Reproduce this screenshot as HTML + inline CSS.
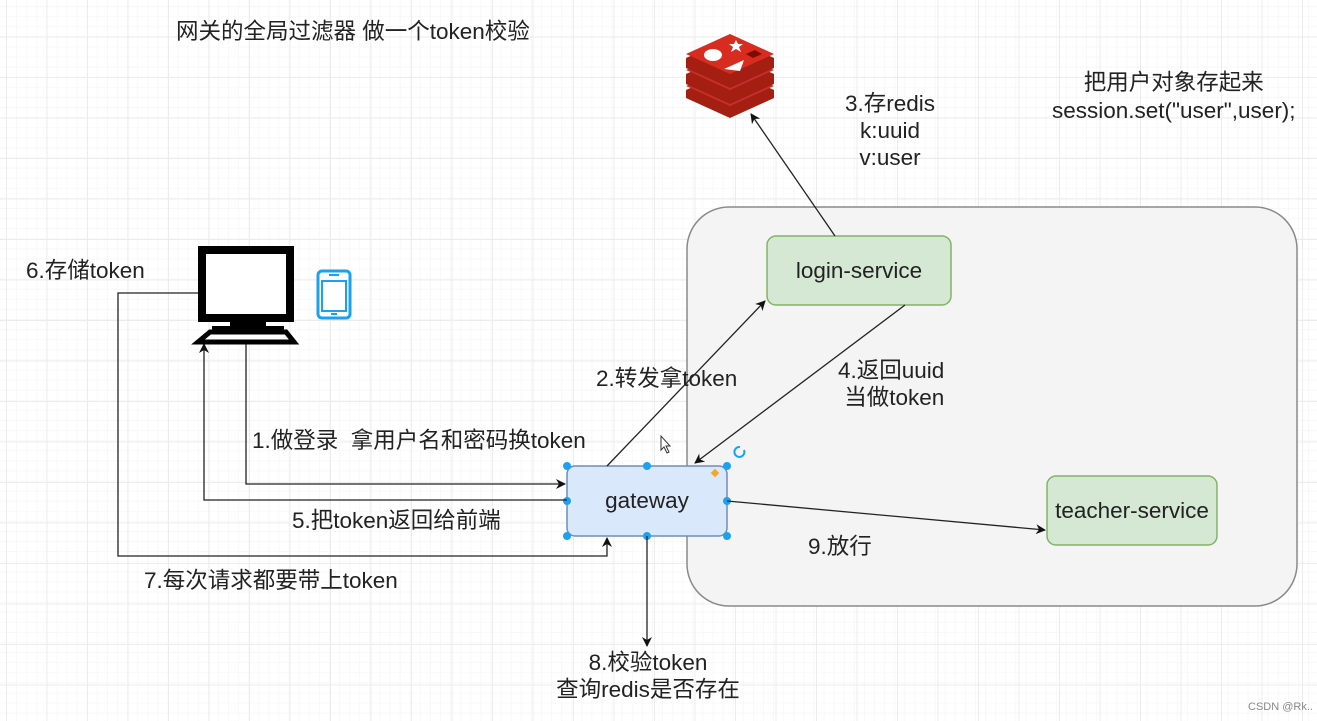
<!DOCTYPE html>
<html><head><meta charset="utf-8"><style>
html,body{margin:0;padding:0}
body{width:1317px;height:719px;overflow:hidden;position:relative;background:#fff;
background-image:linear-gradient(#ececec 1px,transparent 1px),linear-gradient(90deg,#ececec 1px,transparent 1px),linear-gradient(#f8f8f8 1px,transparent 1px),linear-gradient(90deg,#f8f8f8 1px,transparent 1px);
background-size:40.5px 40.5px,40.5px 40.5px,10.1px 10.1px,10.1px 10.1px;background-position:6px -4px;
font-family:"Liberation Sans","Noto Sans CJK SC",sans-serif;color:#222}
.t{position:absolute;font-size:22.5px;line-height:27px;white-space:nowrap;text-align:center}
</style></head><body>
<svg width="1317" height="719" style="position:absolute;left:0;top:0">
<defs><marker id="a" markerWidth="10" markerHeight="10" refX="9" refY="5" orient="auto" markerUnits="userSpaceOnUse"><path d="M0,0 L10,5 L0,10 L3,5z" fill="#111"/></marker></defs>
<rect x="687" y="207" width="610" height="399" rx="42" fill="#f4f4f4" stroke="#8a8a8a" stroke-width="1.5"/>
<rect x="767" y="236" width="184" height="69" rx="9" fill="#d5e8d4" stroke="#82b366" stroke-width="1.5"/>
<rect x="1047" y="476" width="170" height="69" rx="9" fill="#d5e8d4" stroke="#82b366" stroke-width="1.5"/>
<rect x="567" y="466" width="160" height="70" rx="8" fill="#dae8fc" stroke="#6c8ebf" stroke-width="1.5"/>
<g fill="#1ba1f2"><circle cx="567" cy="466" r="4"/><circle cx="647" cy="466" r="4"/><circle cx="727" cy="466" r="4"/><circle cx="567" cy="501" r="4"/><circle cx="727" cy="501" r="4"/><circle cx="567" cy="536" r="4"/><circle cx="647" cy="536" r="4"/><circle cx="727" cy="536" r="4"/></g>
<rect x="712" y="470" width="6" height="6" fill="#f5a623" transform="rotate(45 715 473)"/>
<path d="M744 450 a5 5 0 1 1 -4 -3" fill="none" stroke="#1ba1f2" stroke-width="2"/>
<g stroke="#222" stroke-width="1.3" fill="none">
<path d="M246 342 V484 H565" marker-end="url(#a)"/>
<path d="M567 500 H204 V344" marker-end="url(#a)"/>
<path d="M198 293 H118 V556 H607 V538" marker-end="url(#a)"/>
<path d="M607 466 L765 301" marker-end="url(#a)"/>
<path d="M905 305 L695 463" marker-end="url(#a)"/>
<path d="M835 236 L751 114" marker-end="url(#a)"/>
<path d="M727 501 L1045 530" marker-end="url(#a)"/>
<path d="M647 536 V646" marker-end="url(#a)"/>
</g>
<!-- monitor -->
<rect x="202" y="250" width="88" height="68" fill="#fff" stroke="#000" stroke-width="8"/>
<rect x="230" y="318" width="36" height="8" fill="#000"/>
<rect x="212" y="326" width="72" height="6" fill="#000"/>
<path d="M198 342 L210 332 H286 L294 342Z" fill="#fff" stroke="#000" stroke-width="5"/>
<!-- phone -->
<rect x="318" y="271" width="32" height="47" rx="4" fill="#fff" stroke="#1ba1f2" stroke-width="3"/>
<rect x="322" y="281" width="24" height="30" fill="#fff" stroke="#1ba1f2" stroke-width="2"/>
<rect x="329" y="274" width="10" height="2" fill="#1ba1f2"/><rect x="331" y="313" width="6" height="2" fill="#1ba1f2"/>
<!-- redis -->
<g>
<path d="M686 90 L730 70 L774 90 L774 98 L730 118 L686 98Z" fill="#a41e11"/>
<path d="M686 86 L730 66 L774 86 L730 106Z" fill="#c6302b"/>
<path d="M686 74 L730 54 L774 74 L774 84 L730 104 L686 84Z" fill="#a41e11"/>
<path d="M686 70 L730 50 L774 70 L730 90Z" fill="#c6302b"/>
<path d="M686 58 L730 38 L774 58 L774 68 L730 88 L686 68Z" fill="#a41e11"/>
<path d="M686 54 L730 34 L774 54 L730 74Z" fill="#d82c20"/>
<ellipse cx="713" cy="55" rx="9" ry="6" fill="#fff"/>
<path d="M736 40 l2 4 5 0 -4 3 2 5 -5 -3 -5 3 2 -5 -4 -3 5 0z" fill="#fff"/>
<path d="M724 69 L744 60 L740 71Z" fill="#fff"/>
<path d="M746 54 L755 50 L762 54 L753 58Z" fill="#7a0c00"/>
</g>
<path d="M661 436 v14 l3 -3 3 6 2 -1 -3 -6 4 0z" fill="#fff" stroke="#333"/>
</svg>
<div class="t" style="left:176px;top:18px">网关的全局过滤器 做一个token校验</div>
<div class="t" style="left:1052px;top:69px;line-height:28px">把用户对象存起来<br>session.set("user",user);</div>
<div class="t" style="left:845px;top:90px;line-height:27px">3.存redis<br>k:uuid<br>v:user</div>
<div class="t" style="left:26px;top:257px">6.存储token</div>
<div class="t" style="left:767px;top:257px;width:184px;line-height:28px">login-service</div>
<div class="t" style="left:1047px;top:497px;width:170px;line-height:28px">teacher-service</div>
<div class="t" style="left:567px;top:487px;width:160px;line-height:28px">gateway</div>
<div class="t" style="left:596px;top:365px">2.转发拿token</div>
<div class="t" style="left:838px;top:357px;line-height:27px;text-align:left">4.返回uuid<br>&nbsp;当做token</div>
<div class="t" style="left:252px;top:427px">1.做登录&nbsp; 拿用户名和密码换token</div>
<div class="t" style="left:292px;top:507px">5.把token返回给前端</div>
<div class="t" style="left:808px;top:533px">9.放行</div>
<div class="t" style="left:144px;top:567px">7.每次请求都要带上token</div>
<div class="t" style="left:540px;top:649px;width:216px;line-height:27px">8.校验token<br>查询redis是否存在</div>
<div class="t" style="left:1248px;top:694px;font-size:11px;color:#888">CSDN @Rk..</div>
</body></html>
